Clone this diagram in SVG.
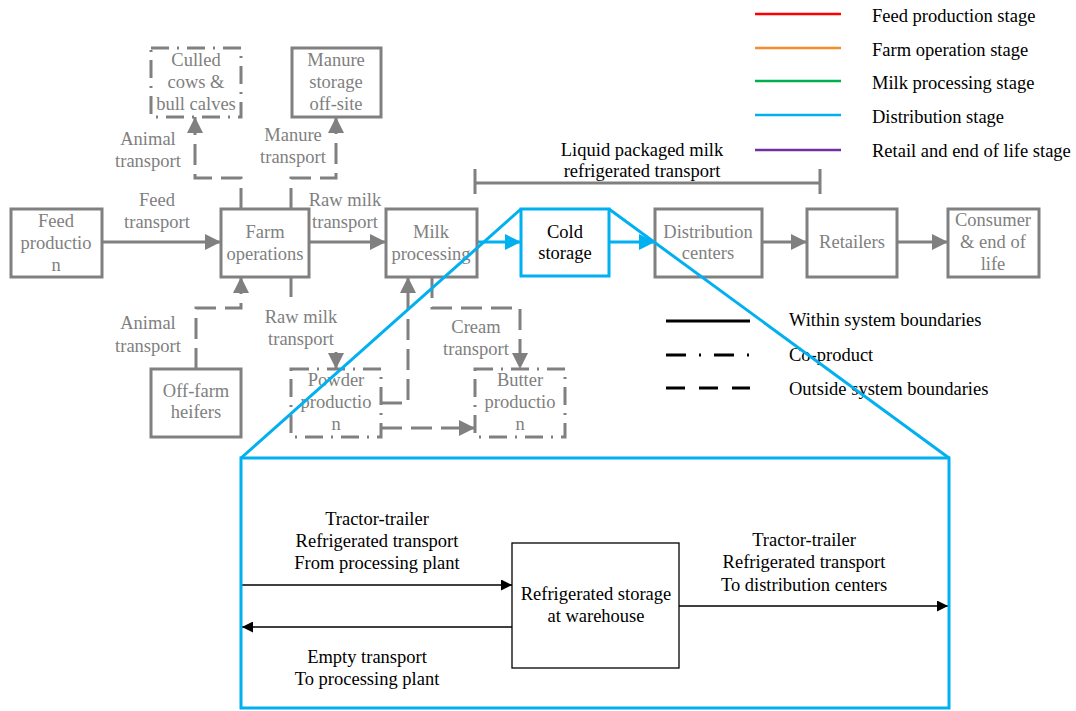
<svg xmlns="http://www.w3.org/2000/svg" width="1076" height="711" viewBox="0 0 1076 711">
  <style>
    text { font-family: "Liberation Serif", serif; font-size: 18.5px; text-anchor: middle; }
    .g { fill: #808080; }
    .k { fill: #000; }
    .lg { text-anchor: start; }
    .box { fill: #fff; stroke: #808080; stroke-width: 3; }
    .cobox { fill: #fff; stroke: #808080; stroke-width: 3; stroke-dasharray: 18 8 2 8; }
    .blue { fill: #fff; stroke: #00b0f0; stroke-width: 3; }
    .ln { fill: none; stroke: #808080; stroke-width: 3; }
    .dash { fill: none; stroke: #808080; stroke-width: 3; stroke-dasharray: 21 9; }
    .bl { fill: none; stroke: #00b0f0; stroke-width: 3; }
    .thin { fill: none; stroke: #000; stroke-width: 1.3; }
  </style>
  <defs>
    <marker id="ga" markerUnits="userSpaceOnUse" markerWidth="16" markerHeight="16" refX="16" refY="8" orient="auto">
      <path d="M0,0 L16,8 L0,16 z" fill="#808080"/>
    </marker>
    <marker id="ba" markerUnits="userSpaceOnUse" markerWidth="16" markerHeight="16" refX="16" refY="8" orient="auto">
      <path d="M0,0 L16,8 L0,16 z" fill="#00b0f0"/>
    </marker>
    <marker id="ka" markerUnits="userSpaceOnUse" markerWidth="11" markerHeight="11" refX="11" refY="5.5" orient="auto">
      <path d="M0,0 L11,5.5 L0,11 z" fill="#000"/>
    </marker>
  </defs>

  <!-- legend: life-cycle stages -->
  <g id="legend-stages">
    <line x1="755" y1="14" x2="841" y2="14" stroke="#ff0000" stroke-width="2.5"/>
    <line x1="755" y1="48" x2="841" y2="48" stroke="#f58b2e" stroke-width="2.5"/>
    <line x1="755" y1="81" x2="841" y2="81" stroke="#00b050" stroke-width="2.5"/>
    <line x1="755" y1="115" x2="841" y2="115" stroke="#00b0f0" stroke-width="2.5"/>
    <line x1="755" y1="150" x2="841" y2="150" stroke="#7030a0" stroke-width="2.5"/>
    <text class="k lg" x="872" y="22">Feed production stage</text>
    <text class="k lg" x="872" y="56">Farm operation stage</text>
    <text class="k lg" x="872" y="89">Milk processing stage</text>
    <text class="k lg" x="872" y="123">Distribution stage</text>
    <text class="k lg" x="872" y="157">Retail and end of life stage</text>
  </g>

  <!-- legend: line styles -->
  <g id="legend-lines">
    <line x1="666" y1="321" x2="750" y2="321" stroke="#000" stroke-width="3"/>
    <line x1="666" y1="355" x2="750" y2="355" stroke="#000" stroke-width="3" stroke-dasharray="20 13 2 13"/>
    <line x1="666" y1="388" x2="750" y2="388" stroke="#000" stroke-width="3" stroke-dasharray="19 14"/>
    <text class="k lg" x="789" y="326">Within system boundaries</text>
    <text class="k lg" x="789" y="361">Co-product</text>
    <text class="k lg" x="789" y="395">Outside system boundaries</text>
  </g>

  <!-- transport bracket over the cold chain -->
  <g id="bracket">
    <path d="M475,169 V194 M475,183 H820 M820,169 V194" fill="none" stroke="#808080" stroke-width="3"/>
    <text class="k" x="642" y="156">Liquid packaged milk</text>
    <text class="k" x="642" y="177">refrigerated transport</text>
  </g>

  <g id="connectors">
    <!-- main chain -->
    <line x1="102" y1="242" x2="221" y2="242" class="ln" marker-end="url(#ga)"/>
    <line x1="309" y1="242" x2="386" y2="242" class="ln" marker-end="url(#ga)"/>
    <line x1="477" y1="242" x2="521" y2="242" class="bl" marker-end="url(#ba)"/>
    <line x1="609" y1="242" x2="655" y2="242" class="bl" marker-end="url(#ba)"/>
    <line x1="762" y1="242" x2="807" y2="242" class="ln" marker-end="url(#ga)"/>
    <line x1="897" y1="242" x2="948" y2="242" class="ln" marker-end="url(#ga)"/>
    <!-- farm outputs -->
    <path d="M241,209 V178 H195 V117" class="dash" marker-end="url(#ga)"/>
    <path d="M291,209 V178 H336 V117" class="dash" marker-end="url(#ga)"/>
    <!-- farm inputs / milk to powder -->
    <path d="M196,369 V308 H241 V277" class="dash" marker-end="url(#ga)"/>
    <path d="M291,277 V297" class="ln"/>
    <path d="M336,352 V369" class="ln" marker-end="url(#ga)"/>
    <!-- powder and cream flows -->
    <path d="M381,403 H408 V277" class="dash" marker-end="url(#ga)"/>
    <path d="M381,428 H475" class="dash" marker-end="url(#ga)"/>
    <path d="M432,277 V308 H520 V369" class="dash" marker-end="url(#ga)"/>
    <!-- warehouse detail -->
    <line x1="242" y1="585" x2="512" y2="585" class="thin" marker-end="url(#ka)"/>
    <line x1="512" y1="627" x2="242" y2="627" class="thin" marker-end="url(#ka)"/>
    <line x1="679" y1="606" x2="948" y2="606" class="thin" marker-end="url(#ka)"/>
  </g>

  <!-- connector labels -->
  <g id="labels">
    <text class="g" x="157" y="206">Feed</text>
    <text class="g" x="157" y="228">transport</text>
    <text class="g" x="345" y="206">Raw milk</text>
    <text class="g" x="345" y="228">transport</text>
    <text class="g" x="148" y="145">Animal</text>
    <text class="g" x="148" y="167">transport</text>
    <text class="g" x="293" y="141">Manure</text>
    <text class="g" x="293" y="163">transport</text>
    <text class="g" x="148" y="329">Animal</text>
    <text class="g" x="148" y="352">transport</text>
    <text class="g" x="301" y="323">Raw milk</text>
    <text class="g" x="301" y="345">transport</text>
    <text class="g" x="476" y="333">Cream</text>
    <text class="g" x="476" y="355">transport</text>
    <text class="k" x="377" y="525">Tractor-trailer</text>
    <text class="k" x="377" y="547">Refrigerated transport</text>
    <text class="k" x="377" y="569">From processing plant</text>
    <text class="k" x="367" y="663">Empty transport</text>
    <text class="k" x="367" y="685">To processing plant</text>
    <text class="k" x="804" y="546">Tractor-trailer</text>
    <text class="k" x="804" y="568">Refrigerated transport</text>
    <text class="k" x="804" y="591">To distribution centers</text>
  </g>

  <g id="feed-production">
    <rect x="11" y="209" width="91" height="68" class="box"/>
    <text class="g" x="56" y="227">Feed</text>
    <text class="g" x="56" y="249">productio</text>
    <text class="g" x="56" y="271">n</text>
  </g>
  <g id="farm-operations">
    <rect x="221" y="209" width="88" height="68" class="box"/>
    <text class="g" x="265" y="238">Farm</text>
    <text class="g" x="265" y="260">operations</text>
  </g>
  <g id="culled-cows">
    <rect x="151" y="48" width="90" height="69" class="cobox"/>
    <text class="g" x="196" y="66">Culled</text>
    <text class="g" x="196" y="88">cows &amp;</text>
    <text class="g" x="196" y="110">bull calves</text>
  </g>
  <g id="manure-storage">
    <rect x="292" y="48" width="89" height="69" class="box"/>
    <text class="g" x="336" y="66">Manure</text>
    <text class="g" x="336" y="88">storage</text>
    <text class="g" x="336" y="110">off-site</text>
  </g>
  <g id="off-farm-heifers">
    <rect x="151" y="369" width="90" height="68" class="box"/>
    <text class="g" x="196" y="397">Off-farm</text>
    <text class="g" x="196" y="418">heifers</text>
  </g>
  <g id="milk-processing">
    <rect x="386" y="209" width="91" height="68" class="box"/>
    <text class="g" x="431" y="238">Milk</text>
    <text class="g" x="431" y="260">processing</text>
  </g>
  <g id="powder-production">
    <rect x="291" y="369" width="90" height="68" class="cobox"/>
    <text class="g" x="336" y="386">Powder</text>
    <text class="g" x="336" y="408">productio</text>
    <text class="g" x="336" y="430">n</text>
  </g>
  <g id="butter-production">
    <rect x="475" y="369" width="90" height="68" class="cobox"/>
    <text class="g" x="520" y="386">Butter</text>
    <text class="g" x="520" y="408">productio</text>
    <text class="g" x="520" y="430">n</text>
  </g>
  <g id="cold-storage">
    <rect x="521" y="209" width="88" height="67" class="blue"/>
    <text class="k" x="565" y="238">Cold</text>
    <text class="k" x="565" y="259">storage</text>
  </g>
  <g id="distribution-centers">
    <rect x="655" y="209" width="107" height="68" class="box"/>
    <text class="g" x="708" y="238">Distribution</text>
    <text class="g" x="708" y="259">centers</text>
  </g>
  <g id="retailers">
    <rect x="807" y="209" width="90" height="68" class="box"/>
    <text class="g" x="852" y="248">Retailers</text>
  </g>
  <g id="consumer">
    <rect x="948" y="209" width="91" height="68" class="box"/>
    <text class="g" x="993" y="226">Consumer</text>
    <text class="g" x="993" y="248">&amp; end of</text>
    <text class="g" x="993" y="270">life</text>
  </g>

  <!-- zoom-out detail of the cold storage stage, drawn over the chain -->
  <g id="detail-frame">
    <rect x="241" y="458" width="708" height="250" fill="none" stroke="#00b0f0" stroke-width="3"/>
    <line x1="521" y1="209" x2="241" y2="458" class="bl"/>
    <line x1="609" y1="209" x2="949" y2="458" class="bl"/>
  </g>

  <g id="warehouse">
    <rect x="512" y="543" width="167" height="125" fill="#fff" stroke="#000" stroke-width="1.3"/>
    <text class="k" x="596" y="600">Refrigerated storage</text>
    <text class="k" x="596" y="622">at warehouse</text>
  </g>
</svg>
